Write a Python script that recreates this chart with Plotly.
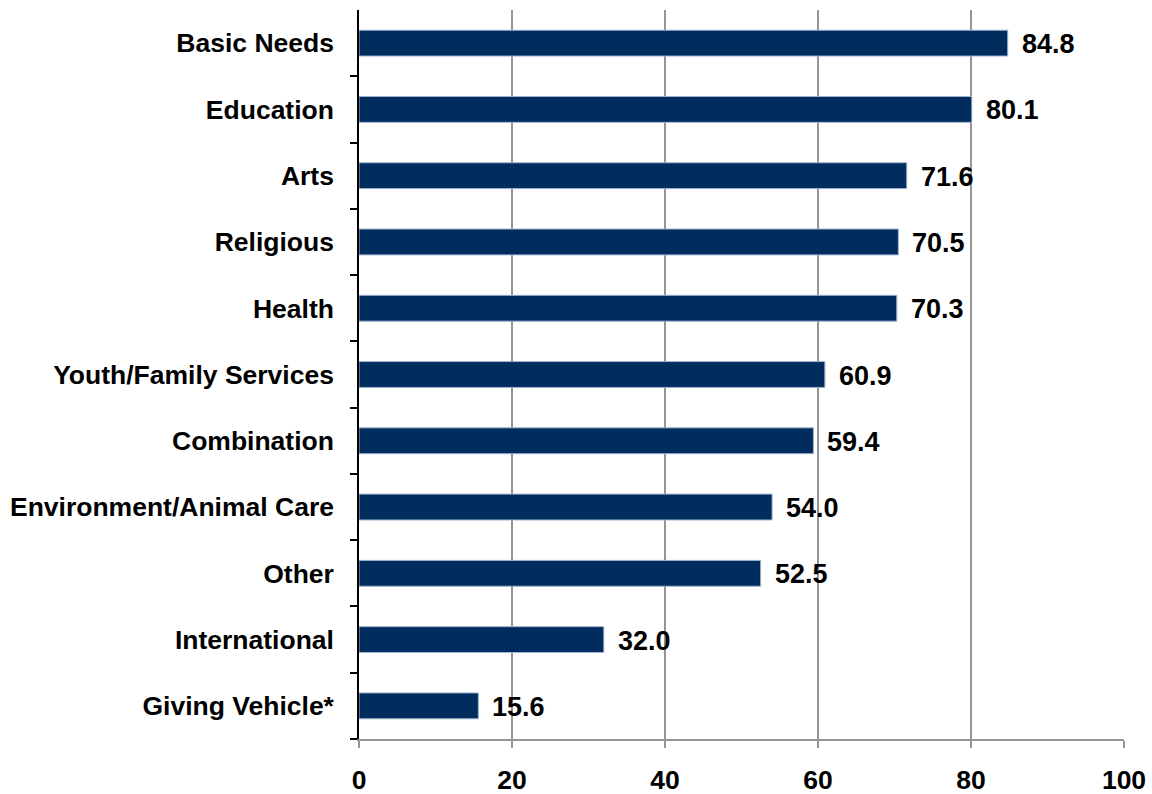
import plotly.graph_objects as go

categories = ["Basic Needs", "Education", "Arts", "Religious", "Health",
              "Youth/Family Services", "Combination", "Environment/Animal Care",
              "Other", "International", "Giving Vehicle*"]
values = [84.8, 80.1, 71.6, 70.5, 70.3, 60.9, 59.4, 54.0, 52.5, 32.0, 15.6]
x_ticks = [0, 20, 40, 60, 80, 100]

FONT = "Liberation Sans, Arial, sans-serif"
BAR = "#002D5E"

fig = go.Figure()
fig.add_trace(go.Bar(
    x=values, y=categories, orientation="h",
    marker=dict(color=BAR, line=dict(color="#9fb3cf", width=1)),
    width=0.39, hoverinfo="skip",
))

for c, v in zip(categories, values):
    fig.add_annotation(x=v, y=c, text=f"<b>{v:.1f}</b>", showarrow=False,
                       xanchor="left", yanchor="middle", xshift=12, yshift=-1,
                       font=dict(family=FONT, size=27, color="black"))

fig.update_layout(
    width=1152, height=794,
    margin=dict(l=359, r=28, t=10, b=55),
    plot_bgcolor="white", paper_bgcolor="white",
    showlegend=False,
    font=dict(family=FONT, size=26, color="black"),
    xaxis=dict(
        range=[0, 100], tickvals=x_ticks,
        ticktext=[f"<b>{t}</b>" for t in x_ticks],
        showgrid=True, gridcolor="#959595", gridwidth=1.5,
        showline=True, linecolor="#959595", linewidth=1.5,
        ticks="outside", ticklen=7, tickcolor="#959595", tickwidth=1.5,
        ticklabelstandoff=9, automargin=False,
        zeroline=False, fixedrange=True,
        tickfont=dict(family=FONT, size=26.5, color="black"),
    ),
    yaxis=dict(
        type="category", categoryorder="array",
        categoryarray=categories[::-1],
        tickvals=categories,
        ticktext=[f"<b>{c}</b>" for c in categories],
        range=[-0.5, len(categories) - 0.5],
        showline=True, linecolor="black", linewidth=1.5,
        ticks="outside", tickson="boundaries", ticklen=7,
        tickcolor="black", tickwidth=1.5,
        ticklabelstandoff=18, automargin=False,
        showgrid=False, zeroline=False, fixedrange=True,
        tickfont=dict(family=FONT, size=26.5, color="black"),
    ),
)

fig.write_html("out.html", config={"displayModeBar": False},
               post_script="document.body.style.margin='0';document.body.style.overflow='hidden';")
